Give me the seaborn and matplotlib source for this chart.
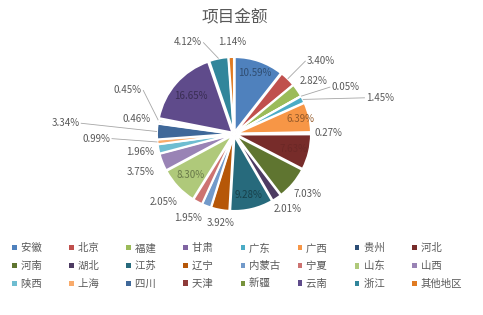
import matplotlib
matplotlib.use("Agg")
import numpy as np
import pandas as pd
import seaborn as sns
import matplotlib.pyplot as plt
from matplotlib.patches import Patch
from matplotlib.colors import to_rgb

# ---------------- data ----------------
title = "项目金额"
regions = ["安徽", "北京", "福建", "甘肃", "广东", "广西", "贵州", "河北",
           "河南", "湖北", "江苏", "辽宁", "内蒙古", "宁夏", "山东", "山西",
           "陕西", "上海", "四川", "天津", "新疆", "云南", "浙江", "其他地区"]
shares = [10.59, 3.40, 2.82, 0.05, 1.45, 6.39, 0.27, 7.63,
          7.03, 2.01, 9.28, 3.92, 1.95, 2.05, 8.30, 3.75,
          1.96, 0.99, 3.34, 0.46, 0.45, 16.65, 4.12, 1.14]

# ---------------- style ----------------
colors = ["#4F81BD", "#C0504D", "#9BBB59", "#8064A2", "#4BACC6", "#F79646",
          "#2C4D75", "#772C2A", "#5F7530", "#4D3B62", "#276A7C", "#B65708",
          "#729ACA", "#CD7371", "#AFC97A", "#9983B5", "#6FBDD1", "#F9AB6B",
          "#3F6899", "#8E3B39", "#77933C", "#5F4B8B", "#31869B", "#E07B22"]

# label placement: ("in", radius) or ("out", dx, dy) in pie-radius units
label_place = [("in", 0.84), ("out", 1.13, 0.95), ("out", 1.03, 0.69), ("out", 1.45, 0.61),
               ("out", 1.90, 0.47), ("in", 0.89), ("out", 1.22, 0.01), ("in", 0.80),
               ("out", 0.96, -0.78), ("out", 0.70, -0.97), ("in", 0.81), ("out", -0.17, -1.16),
               ("out", -0.60, -1.09), ("out", -0.91, -0.88), ("in", 0.78), ("out", -1.21, -0.49),
               ("out", -1.22, -0.23), ("out", -1.79, -0.06), ("out", -2.19, 0.14), ("out", -1.27, 0.19),
               ("out", -1.38, 0.57), ("in", 0.75), ("out", -0.60, 1.19), ("out", -0.03, 1.19)]

W, H = 483, 315
R_PX = 77.0
CX, CY = 234.0, 134.0
TEXT_GRAY = "#595959"

sns.set_theme(style="white")
plt.rcParams['font.family'] = ['Noto Sans CJK SC', 'DejaVu Sans']

fig = plt.figure(figsize=(W / 100, H / 100), dpi=100)
fig.patch.set_facecolor("white")
ax = fig.add_axes([0, 0, 1, 1])

wedges, _ = ax.pie(shares, colors=colors, startangle=90, counterclock=False,
                   explode=[0.03] * len(shares), radius=0.97,
                   wedgeprops=dict(edgecolor="white", linewidth=1.4))
ax.set_aspect("auto")
ax.set_xlim(-CX / R_PX, (W - CX) / R_PX)
ax.set_ylim(-(H - CY) / R_PX, CY / R_PX)
ax.axis("off")


def inside_color(c):
    r, g, b = to_rgb(c)
    lum = 0.299 * r + 0.587 * g + 0.114 * b
    f = 0.6 if lum > 0.3 else 0.9
    return (r * f, g * f, b * f)


for w, v, c, place in zip(wedges, shares, colors, label_place):
    mid = np.deg2rad((w.theta1 + w.theta2) / 2)
    ux, uy = np.cos(mid), np.sin(mid)
    txt = f"{v:.2f}%"
    if place[0] == "in":
        r = place[1]
        ax.text(r * ux, r * uy, txt, ha="center", va="center", fontsize=7,
                color=inside_color(c))
    else:
        lx, ly = place[1], place[2]
        ax.text(lx, ly, txt, ha="center", va="center", fontsize=7, color=TEXT_GRAY)
        ex, ey = 1.0 * ux, 1.0 * uy
        ax_end = lx - 0.2 if lx > ex else lx + 0.2
        dist = np.hypot(ax_end - ex, ly - ey)
        if dist > 0.28:
            ax.plot([ex, ax_end], [ey, ly], color="#A6A6A6", lw=0.6,
                    solid_capstyle="butt")

fig.text(235 / W, 1 - 17 / H, title, ha="center", va="center",
         fontsize=12, color=TEXT_GRAY)

# legend: row-major 3 x 8 grid
ncol, nrow = 8, 3
order = [r * ncol + c for c in range(ncol) for r in range(nrow)]
handles = [Patch(facecolor=colors[i], edgecolor="none") for i in order]
labels = [regions[i] + "\u3000" * (4 - len(regions[i])) for i in order]
leg = fig.legend(handles, labels, ncol=ncol, loc="upper left",
                 bbox_to_anchor=(12 / W, 1 - 243 / H), frameon=False,
                 fontsize=7.5, handlelength=0.45, handleheight=0.45,
                 handletextpad=0.4, columnspacing=0.65, labelspacing=0.75,
                 borderpad=0, borderaxespad=0)
for t in leg.get_texts():
    t.set_color(TEXT_GRAY)

fig.savefig("out.png", dpi=100, facecolor="white")
